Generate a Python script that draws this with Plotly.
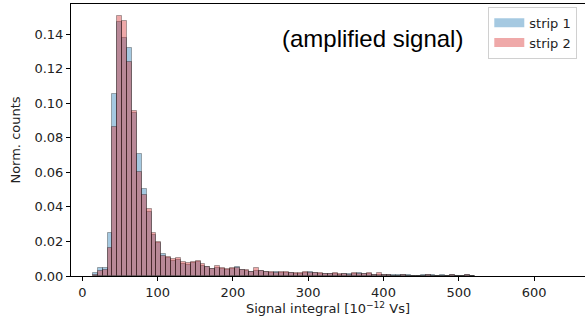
import numpy as np
import plotly.graph_objects as go

# Histogram binning (signal integral, 10^-12 Vs)
bin_start = 14.0
bin_width = 6.5

# Normalised counts per bin
strip1 = [0.0016, 0.0045, 0.0045, 0.0250, 0.1052, 0.1473, 0.1376, 0.1318, 0.0945, 0.0705,
          0.0503, 0.0370, 0.0240, 0.0190, 0.0129, 0.0104, 0.0089, 0.0095, 0.0069, 0.0062,
          0.0075, 0.0080, 0.0058, 0.0050, 0.0040, 0.0045, 0.0042, 0.0035, 0.0042, 0.0054,
          0.0033, 0.0030, 0.0024, 0.0030, 0.0028, 0.0022, 0.0020, 0.0025, 0.0018, 0.0019,
          0.0016, 0.0014, 0.0013, 0.0017, 0.0025, 0.0015, 0.0012, 0.0012, 0.0010, 0.0013,
          0.0008, 0.0009, 0.0012, 0.0012, 0.0015, 0.0009, 0.0010, 0.0005, 0.0008, 0.0004,
          0.0003, 0.0003, 0.0006, 0.0008, 0.0003, 0.0000, 0.0002, 0.0003, 0.0005, 0.0005,
          0.0002, 0.0003, 0.0002, 0.0004, 0.0002, 0.0000, 0.0003, 0.0002]
strip2 = [0.0006, 0.0030, 0.0035, 0.0160, 0.0865, 0.1506, 0.1478, 0.1241, 0.0957, 0.0602,
          0.0471, 0.0388, 0.0250, 0.0195, 0.0114, 0.0112, 0.0097, 0.0104, 0.0083, 0.0075,
          0.0083, 0.0085, 0.0068, 0.0054, 0.0040, 0.0060, 0.0044, 0.0040, 0.0044, 0.0045,
          0.0035, 0.0035, 0.0025, 0.0048, 0.0030, 0.0025, 0.0021, 0.0018, 0.0021, 0.0021,
          0.0018, 0.0015, 0.0015, 0.0021, 0.0015, 0.0018, 0.0015, 0.0014, 0.0012, 0.0015,
          0.0012, 0.0010, 0.0008, 0.0015, 0.0009, 0.0010, 0.0018, 0.0008, 0.0015, 0.0005,
          0.0004, 0.0002, 0.0002, 0.0003, 0.0000, 0.0000, 0.0000, 0.0002, 0.0003, 0.0002,
          0.0000, 0.0002, 0.0000, 0.0003, 0.0000, 0.0002, 0.0003, 0.0000]

series_names = ["strip 1", "strip 2"]
x_ticks = [0, 100, 200, 300, 400, 500, 600]
y_ticks = [0.00, 0.02, 0.04, 0.06, 0.08, 0.10, 0.12, 0.14]

centers = bin_start + bin_width * (np.arange(len(strip1)) + 0.5)

blue_fill = "rgba(31,119,180,0.4)"
red_fill = "rgba(214,39,40,0.4)"
edge = "rgba(0,0,0,0.3)"

fig = go.Figure()
for vals, fill, name in [(strip1, blue_fill, series_names[0]), (strip2, red_fill, series_names[1])]:
    fig.add_trace(go.Bar(x=centers, y=vals, width=bin_width, name=name,
                         marker=dict(color=fill, line=dict(color=edge, width=1)),
                         showlegend=False))
# legend entries (wide patches)
for fill, name in [(blue_fill, series_names[0]), (red_fill, series_names[1])]:
    fig.add_trace(go.Scatter(x=[None], y=[None], mode="lines", name=name,
                             line=dict(color=fill, width=9)))

font_main = "DejaVu Sans"
fig.update_layout(
    width=585, height=321,
    margin=dict(l=71, r=0, t=4, b=45),
    paper_bgcolor="white", plot_bgcolor="white",
    barmode="overlay", bargap=0,
    font=dict(family=font_main, size=13, color="#222"),
    showlegend=True,
    legend=dict(x=0.985, y=0.99, xanchor="right", yanchor="top",
                bgcolor="rgba(255,255,255,0.8)", bordercolor="#d0d0d0", borderwidth=1,
                font=dict(family=font_main, size=13, color="#222"),
                itemwidth=30, tracegroupgap=0),
    xaxis=dict(range=[-15, 667.6], tickvals=x_ticks, ticks="outside", ticklen=4,
               tickcolor="black", showline=True, linecolor="black", linewidth=1,
               mirror=True, showgrid=False, zeroline=False,
               title=dict(text="Signal integral [10<sup>−12</sup> Vs]", standoff=2,
                          font=dict(size=13))),
    yaxis=dict(range=[0, 0.1575], tickvals=y_ticks, tickformat=".2f", ticks="outside",
               ticklen=4, tickcolor="black", showline=True, linecolor="black", linewidth=1,
               showgrid=False, zeroline=False,
               title=dict(text="Norm. counts", standoff=10, font=dict(size=13))),
)
fig.add_annotation(text="(amplified signal)", x=0.586, y=0.875, xref="paper", yref="paper",
                   showarrow=False, xanchor="center", yanchor="middle",
                   font=dict(family="Liberation Sans, Arial", size=24, color="black"))
fig.write_html("out.html", config={"displayModeBar": False},
               post_script="document.body.style.margin='0';document.body.style.overflow='hidden';")
